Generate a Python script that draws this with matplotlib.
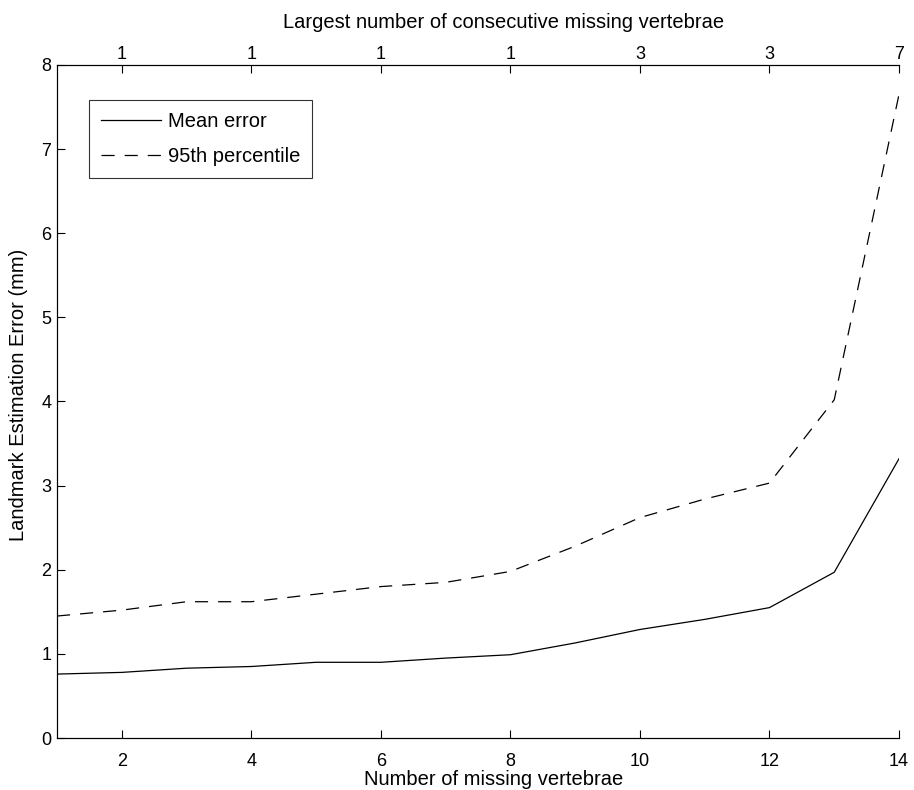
import matplotlib.pyplot as plt

plt.rcParams['font.family'] = ['Liberation Sans', 'DejaVu Sans']

# data
n_missing = [1, 2, 3, 4, 5, 6, 7, 8, 9, 10, 11, 12, 13, 14]
mean_err = [0.76, 0.78, 0.83, 0.85, 0.90, 0.90, 0.95, 0.99, 1.13, 1.29, 1.41, 1.55, 1.97, 3.32]
p95_err = [1.45, 1.52, 1.62, 1.62, 1.71, 1.80, 1.85, 1.98, 2.28, 2.62, 2.84, 3.03, 4.02, 7.65]

top_ticks = [2, 4, 6, 8, 10, 12, 14]
top_labels = ['1', '1', '1', '1', '3', '3', '7']

fs_tick = 13
fs_lab = 14.5

fig = plt.figure(figsize=(9.14, 7.9), dpi=100)
ax = fig.add_axes([0.0624, 0.0658, 0.9212, 0.852])

ax.plot(n_missing, mean_err, color='black', lw=0.9, label='Mean error')
ax.plot(n_missing, p95_err, color='black', lw=0.9, ls=(0, (10.5, 8)), label='95th percentile')

ax.set_xlim(1, 14)
ax.set_ylim(0, 8)
ax.set_xticks([2, 4, 6, 8, 10, 12, 14])
ax.set_yticks(range(0, 9))
ax.tick_params(direction='in', length=6, width=0.8, labelsize=fs_tick)
ax.tick_params(axis='x', pad=11)
ax.tick_params(axis='y', pad=4)
ax.spines['right'].set_visible(False)
for s in ['left', 'bottom', 'top']:
    ax.spines[s].set_linewidth(0.8)
ax.set_xlabel('Number of missing vertebrae', fontsize=fs_lab, va='center')
ax.xaxis.set_label_coords(0.518, -0.061)
ax.set_ylabel('Landmark Estimation Error (mm)', fontsize=fs_lab, va='center')
ax.yaxis.set_label_coords(-0.046, 0.51)

leg = ax.legend(loc='upper left', bbox_to_anchor=(0.038, 0.948), borderaxespad=0,
                fontsize=fs_lab, frameon=True, fancybox=False, edgecolor='black',
                handlelength=2.95, borderpad=0.6, labelspacing=0.8, handletextpad=0.35)
leg.get_frame().set_linewidth(0.8)

ax2 = ax.twiny()
ax2.set_xlim(ax.get_xlim())
ax2.set_xticks(top_ticks)
ax2.set_xticklabels(top_labels)
ax2.tick_params(direction='in', length=6, width=0.8, labelsize=fs_tick, pad=1.5)
ax2.spines['right'].set_visible(False)
ax2.set_xlabel('Largest number of consecutive missing vertebrae', fontsize=fs_lab, va='center')
ax2.xaxis.set_label_coords(0.530, 1.0624)

fig.savefig('out.png', dpi=100)
